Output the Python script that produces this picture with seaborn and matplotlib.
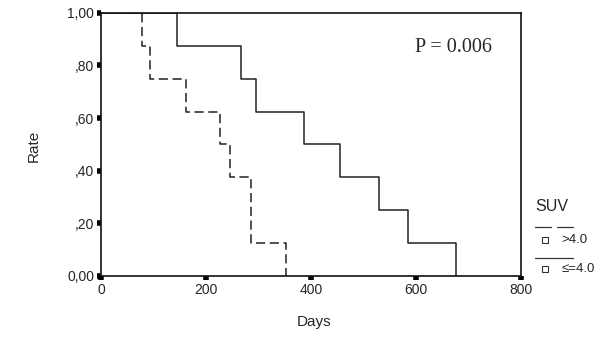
import pandas as pd
import matplotlib.pyplot as plt
import seaborn as sns
from matplotlib.lines import Line2D

# step curves
high_days = [0, 78, 93, 162, 227, 246, 285, 352]
high_rate = [1.0, 0.875, 0.75, 0.625, 0.5, 0.375, 0.125, 0.0]
low_days = [0, 144, 266, 295, 387, 455, 529, 585, 676]
low_rate = [1.0, 0.875, 0.75, 0.625, 0.5, 0.375, 0.25, 0.125, 0.0]
x_ticks = [0, 200, 400, 600, 800]
y_ticks = [0.0, 0.2, 0.4, 0.6, 0.8, 1.0]
y_labels = ['0,00', ',20', ',40', ',60', ',80', '1,00']

df = pd.concat([
    pd.DataFrame({'Days': high_days, 'Rate': high_rate, 'SUV': '>4.0'}),
    pd.DataFrame({'Days': low_days, 'Rate': low_rate, 'SUV': '<=4.0'}),
])

sns.set_style('white')
plt.rcParams['font.family'] = ['Liberation Sans', 'DejaVu Sans']

fig = plt.figure(figsize=(6.16, 3.39), dpi=100)
ax = fig.add_axes([0.164, 0.186, 0.682, 0.776])

sns.lineplot(data=df, x='Days', y='Rate', style='SUV', units='SUV', estimator=None,
             dashes={'>4.0': (6, 3), '<=4.0': ''}, color='#222222', lw=1.1,
             drawstyle='steps-post', legend=False, ax=ax)

ax.set_xlim(0, 800)
ax.set_ylim(0, 1.0)
ax.set_xticks(x_ticks)
ax.set_yticks(y_ticks)
ax.set_yticklabels(y_labels)
ax.tick_params(bottom=True, left=True, direction='out', length=3, width=4,
               color='black', labelsize=10, pad=2)
for s in ax.spines.values():
    s.set_color('#111111')
    s.set_linewidth(1.2)
ax.set_xlabel('')
ax.set_ylabel('')

ax.text(0.84, 0.87, 'P = 0.006', transform=ax.transAxes, ha='center', va='center',
        fontsize=14.5, family=['Liberation Serif', 'DejaVu Serif'])

fig.text(0.054, 0.57, 'Rate', rotation=90, ha='center', va='center', fontsize=11)
fig.text(0.51, 0.05, 'Days', ha='center', va='center', fontsize=11)

# SPSS style legend
fig.text(0.869, 0.39, 'SUV', ha='left', va='center', fontsize=11.5)
fig.add_artist(Line2D([0.869, 0.895], [0.33, 0.33], color='#333333', lw=0.9))
fig.add_artist(Line2D([0.905, 0.93], [0.33, 0.33], color='#333333', lw=0.9))
fig.add_artist(Line2D([0.885], [0.293], marker='s', ms=4, mfc='white', mec='#333333', mew=0.8))
fig.text(0.912, 0.293, '>4.0', ha='left', va='center', fontsize=9.5)
fig.add_artist(Line2D([0.869, 0.93], [0.238, 0.238], color='#333333', lw=0.9))
fig.add_artist(Line2D([0.885], [0.207], marker='s', ms=4, mfc='white', mec='#333333', mew=0.8))
fig.text(0.912, 0.207, '\u2264=4.0', ha='left', va='center', fontsize=9.5)

fig.savefig('out.png', dpi=100)
